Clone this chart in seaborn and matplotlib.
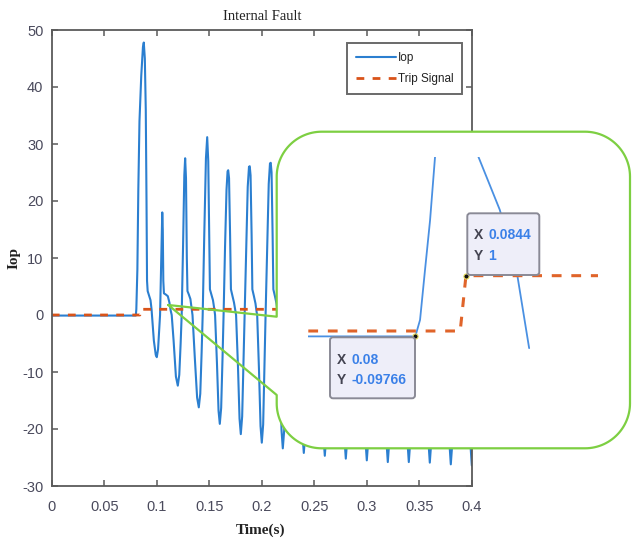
import numpy as np
import pandas as pd
import matplotlib
matplotlib.use("Agg")
import matplotlib.pyplot as plt
import seaborn as sns
from matplotlib.patches import FancyBboxPatch, PathPatch
from matplotlib.path import Path

# ---------------- data ----------------
time_s = [
    0.0, 0.0800,
    0.0805, 0.0815, 0.0824, 0.0835, 0.0852, 0.0868, 0.0876, 0.0886, 0.0895, 0.0902, 0.0907, 0.0913, 0.0925, 0.0940, 0.0950, 0.0958, 0.0972, 0.0990, 0.1000, 0.1012, 0.1022, 0.1031,
    0.1040, 0.1047, 0.1052, 0.1057, 0.1062, 0.1068, 0.1085, 0.1105, 0.1120, 0.1132, 0.1142,
    0.1160, 0.1182, 0.1200, 0.1214, 0.1227, 0.1237,
    0.1250, 0.1262, 0.1270, 0.1278, 0.1286, 0.1292, 0.1305, 0.1320, 0.1332, 0.1340,
    0.1362, 0.1384, 0.1400, 0.1414, 0.1427, 0.1437,
    0.1452, 0.1468, 0.1480, 0.1490, 0.1500, 0.1506, 0.1520, 0.1535, 0.1548, 0.1555,
    0.1573, 0.1588, 0.1600, 0.1613, 0.1626, 0.1636,
    0.1650, 0.1664, 0.1674, 0.1680, 0.1688, 0.1698, 0.1706, 0.1720, 0.1735, 0.1748, 0.1755,
    0.1773, 0.1788, 0.1800, 0.1813, 0.1826, 0.1836,
    0.1852, 0.1866, 0.1878, 0.1885, 0.1893, 0.1903, 0.1910, 0.1925, 0.1940, 0.1950, 0.1956,
    0.1973, 0.1988, 0.2000, 0.2013, 0.2026, 0.2036,
    0.2052, 0.2066, 0.2078, 0.2085, 0.2093, 0.2103, 0.2110, 0.2125, 0.2140, 0.2150, 0.2156,
    0.2173, 0.2188, 0.2200, 0.2213, 0.2226, 0.2236,
    0.2252, 0.2278, 0.2293, 0.2310, 0.2340, 0.2356,
    0.2372, 0.2388, 0.2400, 0.2413, 0.2426, 0.2436,
    0.2452, 0.2478, 0.2493, 0.2510, 0.2540, 0.2556,
    0.2572, 0.2588, 0.2600, 0.2613, 0.2626, 0.2636,
    0.2652, 0.2678, 0.2693, 0.2710, 0.2740, 0.2756,
    0.2772, 0.2788, 0.2800, 0.2813, 0.2826, 0.2836,
    0.2852, 0.2878, 0.2893, 0.2910, 0.2940, 0.2956,
    0.2972, 0.2988, 0.3000, 0.3013, 0.3026, 0.3036,
    0.3052, 0.3078, 0.3093, 0.3110, 0.3140, 0.3156,
    0.3172, 0.3188, 0.3200, 0.3213, 0.3226, 0.3236,
    0.3252, 0.3278, 0.3293, 0.3310, 0.3340, 0.3356,
    0.3372, 0.3388, 0.3400, 0.3413, 0.3426, 0.3436,
    0.3452, 0.3478, 0.3493, 0.3510, 0.3540, 0.3556,
    0.3572, 0.3588, 0.3600, 0.3613, 0.3626, 0.3636,
    0.3652, 0.3678, 0.3693, 0.3710, 0.3740, 0.3756,
    0.3772, 0.3788, 0.3800, 0.3813, 0.3826, 0.3836,
    0.3852, 0.3878, 0.3893, 0.3910, 0.3940, 0.3956,
    0.3972, 0.3988, 0.4000,
]
iop_values = [
    -0.1, -0.1,
    1.0, 8.0, 22.0, 34.0, 42.0, 47.0, 47.8, 45.0, 36.0, 20.0, 6.0, 4.2, 3.5, 2.6, 1.0, -1.0, -4.5, -7.0, -7.4, -6.0, -3.0, 0.0,
    8.0, 15.0, 18.0, 15.0, 6.0, 3.8, 3.6, 3.3, 2.2, 0.8, 0.0,
    -4.5, -10.8, -12.4, -10.5, -5.0, 0.0,
    12.0, 24.5, 27.5, 24.0, 10.0, 4.2, 3.6, 2.8, 1.2, 0.0,
    -7.5, -14.5, -16.2, -13.8, -6.5, 0.0,
    14.0, 27.5, 31.2, 27.0, 12.0, 4.5, 3.6, 2.6, 1.0, 0.0,
    -8.5, -16.8, -19.1, -16.3, -7.5, 0.0,
    12.0, 22.0, 25.2, 25.4, 24.0, 14.0, 4.5, 3.4, 2.2, 0.8, 0.0,
    -9.0, -18.2, -20.9, -17.8, -8.0, 0.0,
    12.0, 22.5, 26.0, 26.1, 24.5, 14.0, 4.5, 3.3, 2.0, 0.6, 0.0,
    -9.5, -19.5, -22.4, -19.2, -8.5, 0.0,
    12.0, 23.0, 26.6, 26.7, 25.0, 14.0, 4.5, 3.3, 2.0, 0.6, 0.0,
    -10.0, -20.3, -23.4, -20.3, -8.5, 0.0,
    12.0, 26.6, 25.0, 4.5, 2.0, 0.0,
    -10.0, -21.1, -24.2, -21.1, -8.5, 0.0,
    12.0, 26.6, 25.0, 4.5, 2.0, 0.0,
    -10.0, -21.5, -24.7, -21.5, -8.5, 0.0,
    12.0, 26.6, 25.0, 4.5, 2.0, 0.0,
    -10.0, -21.9, -25.2, -21.9, -8.5, 0.0,
    12.0, 26.6, 25.0, 4.5, 2.0, 0.0,
    -10.0, -22.2, -25.5, -22.2, -8.5, 0.0,
    12.0, 26.6, 25.0, 4.5, 2.0, 0.0,
    -10.0, -22.4, -25.8, -22.4, -8.5, 0.0,
    12.0, 26.6, 25.0, 4.5, 2.0, 0.0,
    -10.0, -22.4, -25.8, -22.4, -8.5, 0.0,
    12.0, 26.6, 25.0, 4.5, 2.0, 0.0,
    -10.0, -22.5, -25.9, -22.5, -8.5, 0.0,
    12.0, 26.6, 25.0, 4.5, 2.0, 0.0,
    -10.0, -22.8, -26.2, -22.8, -8.5, 0.0,
    12.0, 26.6, 25.0, 4.5, 2.0, 0.0,
    -10.0, -23.0, -26.4,
]
trip_time = [0.0, 0.0839, 0.0844, 0.4]
trip_signal = [0.0, 0.0, 1.0, 1.0]

# zoomed view (inset)
zoom_rise_time = [0.0707, 0.0800, 0.08041, 0.08084, 0.08128, 0.08171, 0.0819]
zoom_rise_iop = [-0.0977, -0.0977, 0.2, 1.10, 2.0, 3.14, 3.6]
zoom_fall_time = [0.0846, 0.0855, 0.08734, 0.08879, 0.08989]
zoom_fall_iop = [3.6, 3.14, 2.19, 1.10, -0.31]
zoom_trip_time = [0.0707, 0.0839, 0.0844, 0.0959]
zoom_trip = [0.0, 0.0, 1.0, 1.0]
tip_x = [0.08, 0.0844]
tip_y = [-0.09766, 1.0]
tip_x_text = ["0.08", "0.0844"]
tip_y_text = ["-0.09766", "1"]

x_ticks = [0, 0.05, 0.1, 0.15, 0.2, 0.25, 0.3, 0.35, 0.4]
x_tick_labels = ["0", "0.05", "0.1", "0.15", "0.2", "0.25", "0.3", "0.35", "0.4"]
y_ticks = [-30, -20, -10, 0, 10, 20, 30, 40, 50]
y_tick_labels = ["-30", "-20", "-10", "0", "10", "20", "30", "40", "50"]

# ---------------- style ----------------
sns.set_theme(style="ticks")
plt.rcParams['font.family'] = ['Liberation Sans', 'DejaVu Sans']

W, H = 632, 544
fig = plt.figure(figsize=(W / 100, H / 100), dpi=100)
fig.patch.set_facecolor("white")

BLUE = "#2b7fd0"
ORANGE = "#d95319"
GREEN = "#7dcf42"

def px_rect(x0, y0, x1, y1):
    return [x0 / W, 1 - y1 / H, (x1 - x0) / W, (y1 - y0) / H]

# ---------------- main axes ----------------
ax = fig.add_axes(px_rect(51.8, 30, 471.8, 486))
ax.set_zorder(0)
main_df = pd.DataFrame({"Time": time_s, "Iop": iop_values})
trip_df = pd.DataFrame({"Time": trip_time, "Trip": trip_signal})
sns.lineplot(data=main_df, x="Time", y="Iop", ax=ax, color=BLUE, linewidth=1.5,
             label="Iop", sort=False, estimator=None)
sns.lineplot(data=trip_df, x="Time", y="Trip", ax=ax, color=ORANGE, linewidth=2.0,
             linestyle=(0, (2.8, 3.0)), label="Trip Signal", sort=False, estimator=None)
ax.set_xlim(0, 0.4)
ax.set_ylim(-30, 50)
ax.set_xticks(x_ticks)
ax.set_xticklabels(x_tick_labels)
ax.set_yticks(y_ticks)
ax.set_yticklabels(y_tick_labels)
ax.set_xlabel("")
ax.set_ylabel("")
for s in ax.spines.values():
    s.set_visible(True)
    s.set_color("#5a5a5a")
    s.set_linewidth(1.3)
ax.tick_params(direction="in", top=True, right=True, length=4.5, width=1.1,
               color="#5a5a5a", labelcolor="#4a4a5c", labelsize=10.5, pad=6)
ax.tick_params(axis="x", pad=10)

leg = ax.legend(loc="upper right", bbox_to_anchor=(0.977, 0.971), borderaxespad=0,
                fancybox=False, frameon=True, fontsize=8.5, handlelength=3.4,
                handletextpad=0.1, borderpad=0.75, labelspacing=0.75)
leg.get_frame().set_edgecolor("#444444")
leg.get_frame().set_linewidth(1.4)
for t in leg.get_texts():
    t.set_color("#222222")

fig.text(261.8 / W, 1 - 16.5 / H, "Internal Fault", ha="center", va="center",
         fontfamily="Liberation Serif", fontsize=10.5, color="#222222")
fig.text(261.0 / W, 1 - 530 / H, "Time(s)", ha="center", va="center",
         fontfamily="Liberation Serif", fontsize=11, fontweight="bold", color="#222222")
fig.text(14.0 / W, 1 - 258 / H, "Iop", ha="center", va="center", rotation=90,
         fontfamily="Liberation Serif", fontsize=11, fontweight="bold", color="#222222")

# ---------------- callout overlay ----------------
ov = fig.add_axes([0, 0, 1, 1])
ov.set_zorder(5)
ov.set_xlim(0, W)
ov.set_ylim(H, 0)
ov.axis("off")

R = 45.0
L, T, Rt, B = 276.7, 131.7, 630.0, 448.3

def arc(cx, cy, a0, a1, n=30):
    a = np.radians(np.linspace(a0, a1, n))
    return list(zip(cx + R * np.cos(a), cy + R * np.sin(a)))

rect_pts = (arc(L + R, T + R, 180, 270) + arc(Rt - R, T + R, 270, 360) +
            arc(Rt - R, B - R, 0, 90) + arc(L + R, B - R, 90, 180))
fill = PathPatch(Path(rect_pts + [rect_pts[0]]), facecolor="white", edgecolor="none")
ov.add_patch(fill)

src = (168.3, 305.0)
outline = ([src, (L, 316.7)] + arc(L + R, T + R, 180, 270) + arc(Rt - R, T + R, 270, 360) +
           arc(Rt - R, B - R, 0, 90) + arc(L + R, B - R, 90, 180) + [(L, 395.0), src])
ov.plot([p[0] for p in outline], [p[1] for p in outline], color=GREEN, lw=1.6,
        solid_joinstyle="round")

# ---------------- inset (zoomed view) ----------------
ins = fig.add_axes(px_rect(308.3, 157.3, 598.3, 430))
ins.set_zorder(6)
ins.patch.set_alpha(0)
rise_df = pd.DataFrame({"t": zoom_rise_time, "v": zoom_rise_iop})
fall_df = pd.DataFrame({"t": zoom_fall_time, "v": zoom_fall_iop})
ztrip_df = pd.DataFrame({"t": zoom_trip_time, "v": zoom_trip})
sns.lineplot(data=rise_df, x="t", y="v", ax=ins, color="#4a90e2", linewidth=1.3,
             sort=False, estimator=None)
sns.lineplot(data=fall_df, x="t", y="v", ax=ins, color="#4a90e2", linewidth=1.3,
             sort=False, estimator=None)
sns.lineplot(data=ztrip_df, x="t", y="v", ax=ins, color="#e0642a", linewidth=2.2,
             linestyle=(0, (3.2, 3.2)), sort=False, estimator=None)
ins.scatter(tip_x, tip_y, s=14, color="#111111", edgecolor="#e8e060", linewidth=0.8, zorder=5)
ins.set_xlim(0.0707, 0.0959)
ins.set_ylim(-1.79, 3.14)
ins.set_xticks([])
ins.set_yticks([])
ins.set_xlabel("")
ins.set_ylabel("")
for s in ins.spines.values():
    s.set_visible(False)

# ---------------- data tips ----------------
tp = fig.add_axes([0, 0, 1, 1])
tp.set_zorder(7)
tp.set_xlim(0, W)
tp.set_ylim(H, 0)
tp.axis("off")

boxes = [(330.0, 337.3, 415.0, 398.3, 336.5, 351.5, 359.5, 380.5),
         (467.3, 213.3, 539.3, 275.0, 474.0, 488.5, 235.0, 256.5)]
for i, (x0, y0, x1, y1, xl, xv, yx, yy) in enumerate(boxes):
    tp.add_patch(FancyBboxPatch((x0, y0), x1 - x0, y1 - y0,
                                boxstyle="round,pad=0,rounding_size=3",
                                facecolor="#eeeef9", edgecolor="#8a8a96", lw=1.4))
    kw = dict(va="center", ha="left", fontsize=10, fontweight="bold",
              fontfamily="Liberation Sans")
    tp.text(xl, yx, "X", color="#444452", **kw)
    tp.text(xv, yx, tip_x_text[i], color="#3a80e8", **kw)
    tp.text(xl, yy, "Y", color="#444452", **kw)
    tp.text(xv, yy, tip_y_text[i], color="#3a80e8", **kw)

fig.savefig("out.png", dpi=100, facecolor="white")
